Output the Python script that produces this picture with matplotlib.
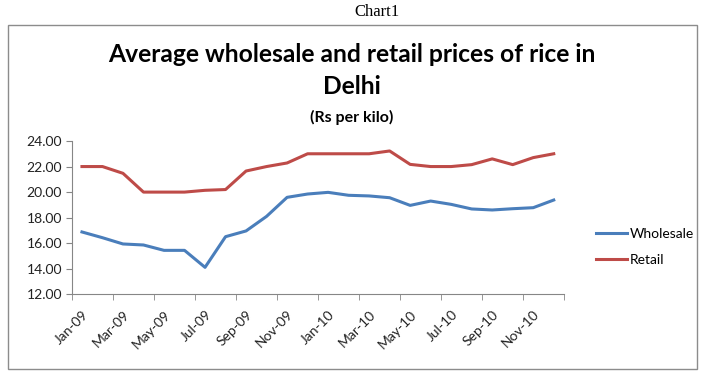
import numpy as np
import matplotlib.pyplot as plt
from matplotlib.patches import Rectangle

# monthly categories, Jan-09 .. Dec-10
months = ['Jan-09', 'Feb-09', 'Mar-09', 'Apr-09', 'May-09', 'Jun-09', 'Jul-09', 'Aug-09',
          'Sep-09', 'Oct-09', 'Nov-09', 'Dec-09', 'Jan-10', 'Feb-10', 'Mar-10', 'Apr-10',
          'May-10', 'Jun-10', 'Jul-10', 'Aug-10', 'Sep-10', 'Oct-10', 'Nov-10', 'Dec-10']

# prices (Rs per kilo)
wholesale = [16.88, 16.43, 15.94, 15.86, 15.44, 15.44, 14.11, 16.51, 16.96, 18.10, 19.59, 19.85,
             19.98, 19.75, 19.70, 19.56, 18.96, 19.30, 19.04, 18.68, 18.60, 18.70, 18.78, 19.38]
retail = [22.00, 22.00, 21.47, 20.00, 20.00, 20.00, 20.14, 20.20, 21.65, 22.00, 22.28, 23.00,
          23.00, 23.00, 23.00, 23.22, 22.17, 22.00, 22.00, 22.15, 22.60, 22.15, 22.70, 23.00]

W, H = 705, 378
fig = plt.figure(figsize=(W / 100, H / 100), dpi=100)
sans = 'Lato'

# outer frame of the chart object
fig.patches.append(Rectangle((8 / W, (H - 369) / H), (697 - 8) / W, (369 - 25) / H,
                             transform=fig.transFigure, fill=False, ec='#8c8c8c', lw=1))

fig.text(377 / W, 1 - 12 / H, 'Chart1', family='Liberation Serif', fontsize=12,
         ha='center', va='center')
fig.text(352 / W, 1 - 55 / H, 'Average wholesale and retail prices of rice in',
         family=sans, weight='bold', fontsize=17.7, ha='center', va='center')
fig.text(352 / W, 1 - 87 / H, 'Delhi', family=sans, weight='bold', fontsize=17.7,
         ha='center', va='center')
fig.text(352 / W, 1 - 117 / H, '(Rs per kilo)', family=sans, weight='bold', fontsize=11.5,
         ha='center', va='center')

left, right, bottom, top = 71.7, 564, 294.3, 141
ax = fig.add_axes([left / W, (H - bottom) / H, (right - left) / W, (bottom - top) / H])

x = np.arange(len(months))
ax.plot(x, wholesale, color='#4a7ebb', lw=2.2, label='Wholesale')
ax.plot(x, retail, color='#be4b48', lw=2.2, label='Retail')

ax.set_xlim(-0.5, len(months) - 0.5)
ax.set_ylim(12, 24)
ax.set_yticks(np.arange(12, 24.01, 2))
ax.set_yticklabels(['%.2f' % v for v in np.arange(12, 24.01, 2)])

ax.set_xticks(x[::2])
ax.set_xticklabels(months[::2], rotation=45, ha='right', rotation_mode='anchor')
ax.set_xticks(np.arange(-0.5, len(months), 2), minor=True)
ax.tick_params(axis='x', which='major', length=0, pad=10)
ax.tick_params(axis='x', which='minor', length=4, color='#868686', direction='out')
ax.tick_params(axis='y', length=4, color='#868686', direction='out', pad=3)
for lab in ax.get_xticklabels() + ax.get_yticklabels():
    lab.set_family(sans)
    lab.set_fontsize(10)
    lab.set_color('#222222')

for s in ['top', 'right']:
    ax.spines[s].set_visible(False)
for s in ['left', 'bottom']:
    ax.spines[s].set_color('#868686')

leg = ax.legend(loc='center left', bbox_to_anchor=(583 / W, 1 - 247 / H),
                bbox_transform=fig.transFigure, frameon=False, prop={'family': sans, 'size': 10},
                handlelength=2.3, handletextpad=0.2, labelspacing=1.0)

fig.savefig('out.png', dpi=100)
